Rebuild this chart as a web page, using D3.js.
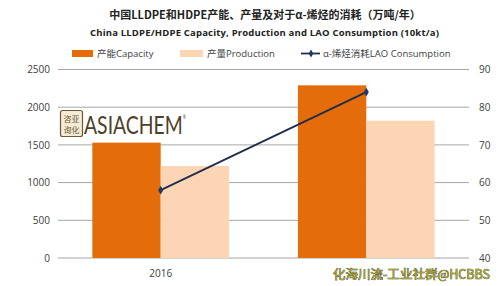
<!DOCTYPE html>
<html>
<head>
<meta charset="utf-8">
<script src="https://cdn.jsdelivr.net/npm/d3@7"></script>
<style>
body { margin: 0; background: #fff; }
svg { display: block; font-family: "Open Sans", "Noto Sans CJK SC", sans-serif; }
</style>
</head>
<body>
<svg id="chart" width="500" height="286"></svg>
<script>
// data
var years = ["2016", "2020"];
var yearLabels = ["2016", ""]; // second label is hidden under the watermark
var capacity = [1530, 2290];
var production = [1220, 1820];
var laoConsumption = [58, 84];
var leftTicks = [0, 500, 1000, 1500, 2000, 2500];
var rightTicks = [40, 50, 60, 70, 80, 90];

var margin = {top: 69.5, right: 31, bottom: 28, left: 58};
var width = 500, height = 286;
var svg = d3.select("#chart");

var x = d3.scaleBand().domain(years).range([margin.left, width - margin.right]).paddingInner(0.335).paddingOuter(0.167);
var x1 = d3.scaleBand().domain(["cap", "prod"]).range([0, x.bandwidth()]);
var yL = d3.scaleLinear().domain([0, 2500]).range([height - margin.bottom, margin.top]);
var yR = d3.scaleLinear().domain([40, 90]).range([height - margin.bottom, margin.top]);

// gridlines
svg.append("g")
	.selectAll("line")
	.data(leftTicks)
	.enter()
	.append("line")
	.attr("x1", margin.left)
	.attr("x2", width - margin.right)
	.attr("y1", function(d) { return yL(d); })
	.attr("y2", function(d) { return yL(d); })
	.attr("stroke", "#a6a6a6")
	.attr("stroke-width", 1);

// left axis
var axL = svg.append("g")
	.attr("transform", "translate(" + (margin.left - 8) + ",0)")
	.call(d3.axisLeft(yL).tickValues(leftTicks).tickFormat(d3.format("d")).tickSize(0).tickPadding(0));
axL.select(".domain").remove();
axL.selectAll("text").attr("fill", "#404040").style("font-size", "10px").style("font-family", "Open Sans");

// right axis
var axR = svg.append("g")
	.attr("transform", "translate(" + (width - margin.right + 10) + ",0)")
	.call(d3.axisRight(yR).tickValues(rightTicks).tickFormat(d3.format("d")).tickSize(0).tickPadding(0));
axR.select(".domain").remove();
axR.selectAll("text").attr("fill", "#404040").style("font-size", "10px").style("font-family", "Open Sans");

// watermark logo
var logo = svg.append("g");
logo.append("rect").attr("x", 60.5).attr("y", 110.5).attr("width", 22).attr("height", 26).attr("rx", 2)
	.attr("fill", "#f4ecd6").attr("stroke", "#6b5a35").attr("stroke-width", 1.2);
logo.append("text").attr("x", 71.5).attr("y", 121.5).attr("text-anchor", "middle")
	.style("font-size", "8px").style("font-family", "Noto Sans CJK SC").attr("fill", "#6b5a35").text("咨亚");
logo.append("text").attr("x", 71.5).attr("y", 132.5).attr("text-anchor", "middle")
	.style("font-size", "8px").style("font-family", "Noto Sans CJK SC").attr("fill", "#6b5a35").text("询化");
var brand = logo.append("text").attr("x", 84).attr("y", 134).attr("textLength", 102).attr("lengthAdjust", "spacingAndGlyphs")
	.style("font-size", "25px").style("font-family", "Lato").style("font-weight", "400").attr("fill", "#4f4128");
brand.append("tspan").text("ASIACHEM");
brand.append("tspan").attr("dy", -15).style("font-size", "5px").text("®");

// bars
var groups = svg.append("g")
	.selectAll("g")
	.data(years)
	.enter()
	.append("g")
	.attr("transform", function(d) { return "translate(" + x(d) + ",0)"; });
groups.append("rect")
	.attr("x", x1("cap"))
	.attr("width", x1.bandwidth())
	.attr("y", function(d, i) { return yL(capacity[i]); })
	.attr("height", function(d, i) { return yL(0) - yL(capacity[i]); })
	.attr("fill", "#e46c0a");
groups.append("rect")
	.attr("x", x1("prod"))
	.attr("width", x1.bandwidth())
	.attr("y", function(d, i) { return yL(production[i]); })
	.attr("height", function(d, i) { return yL(0) - yL(production[i]); })
	.attr("fill", "#fcd5b5");

// line
var cx = function(i) { return x(years[i]) + x.bandwidth() / 2; };
svg.append("path")
	.datum(laoConsumption)
	.attr("d", d3.line().x(function(d, i) { return cx(i); }).y(function(d) { return yR(d); }))
	.attr("fill", "none")
	.attr("stroke", "#1f2d4e")
	.attr("stroke-width", 1.8);
svg.append("g")
	.selectAll("path")
	.data(laoConsumption)
	.enter()
	.append("path")
	.attr("d", d3.symbol().type(d3.symbolDiamond).size(22))
	.attr("transform", function(d, i) { return "translate(" + cx(i) + "," + yR(d) + ")"; })
	.attr("fill", "#1f3864");

// category labels
svg.append("g")
	.selectAll("text")
	.data(years)
	.enter()
	.append("text")
	.attr("x", function(d) { return x(d) + x.bandwidth() / 2; })
	.attr("y", 277)
	.attr("text-anchor", "middle")
	.style("font-size", "10px")
	.attr("fill", "#404040")
	.text(function(d, i) { return yearLabels[i]; });

// titles
svg.append("text").attr("x", 265).attr("y", 19).attr("text-anchor", "middle")
	.style("font-size", "11px").style("font-weight", "bold").style("font-family", "Noto Sans CJK SC").attr("fill", "#222")
	.text("中国LLDPE和HDPE产能、产量及对于α-烯烃的消耗（万吨/年）");
svg.append("text").attr("x", 264.5).attr("y", 36).attr("text-anchor", "middle").attr("textLength", 349)
	.style("font-size", "9.5px").style("font-weight", "bold").attr("fill", "#222")
	.text("China LLDPE/HDPE Capacity, Production and LAO Consumption (10kt/a)");

// legend
var lg = svg.append("g").style("font-size", "9.5px").attr("fill", "#404040");
lg.append("rect").attr("x", 72).attr("y", 50).attr("width", 21).attr("height", 7).attr("fill", "#e46c0a");
lg.append("text").attr("x", 97).attr("y", 57).text("产能Capacity");
lg.append("rect").attr("x", 180).attr("y", 50).attr("width", 23).attr("height", 7).attr("fill", "#fcd5b5");
lg.append("text").attr("x", 207).attr("y", 57).text("产量Production");
lg.append("line").attr("x1", 301).attr("x2", 320).attr("y1", 53.5).attr("y2", 53.5).attr("stroke", "#1f2d4e").attr("stroke-width", 1.8);
lg.append("path").attr("d", d3.symbol().type(d3.symbolDiamond).size(18)).attr("transform", "translate(311,53.5)").attr("fill", "#1f3864");
lg.append("text").attr("x", 323).attr("y", 57).text("α-烯烃消耗LAO Consumption");

// bottom watermark
svg.append("text").attr("x", 333).attr("y", 279).attr("textLength", 157)
	.style("font-size", "12.5px").style("font-family", "Noto Sans CJK SC")
	.attr("fill", "#a8a820").attr("stroke", "#333").attr("stroke-width", 0.6)
	.style("paint-order", "stroke")
	.text("化海川流-工业社群@HCBBS");
</script>
</body>
</html>
